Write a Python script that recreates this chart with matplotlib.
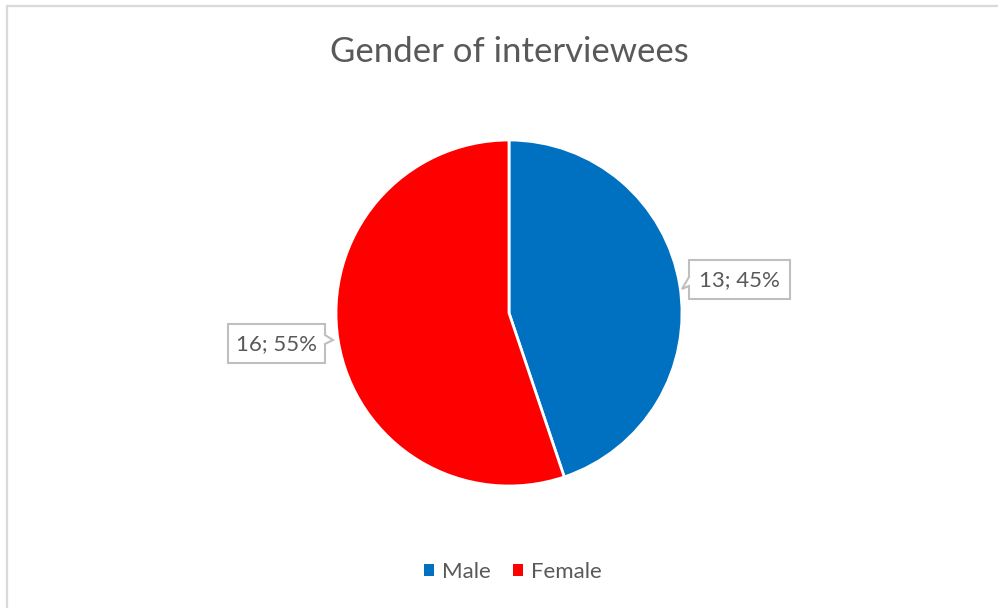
import matplotlib.pyplot as plt
from matplotlib.patches import Polygon

# data
labels = ["Male", "Female"]
counts = [13, 16]
colors = ["#0070C0", "#FF0000"]

title = "Gender of interviewees"
text_grey = "#595959"
font = "Lato"

W, H = 998, 608
fig = plt.figure(figsize=(W / 100, H / 100), dpi=100)
ax = fig.add_axes([0, 0, 1, 1])
ax.set_xlim(0, W)
ax.set_ylim(H, 0)  # pixel-like coords, y downwards
ax.set_aspect("equal")
ax.axis("off")

# pie: y is flipped, so counterclock=True / startangle=-90 reads clockwise from 12 o'clock
cx, cy, r = 509, 313, 173
wedges, _ = ax.pie(counts, colors=colors, startangle=-90, counterclock=True,
                   center=(cx, cy), radius=r, frame=True,
                   wedgeprops=dict(edgecolor="white", linewidth=2))
ax.set_xlim(0, W)
ax.set_ylim(H, 0)
ax.axis("off")

total = sum(counts)
label_text = [f"{c}; {round(100 * c / total)}%" for c in counts]

# callout boxes: (center x, center y, width, height, pointer side)
callouts = [(739.5, 279.5, 101, 39, "left"), (276.5, 343.5, 97, 39, "right")]
for txt, (tx, ty, bw, bh, side) in zip(label_text, callouts):
    x0, x1 = tx - bw / 2, tx + bw / 2
    y0, y1 = ty - bh / 2, ty + bh / 2
    if side == "left":
        pts = [(x0, y0), (x1, y0), (x1, y1), (x0, y1),
               (x0, ty + 6.5), (x0 - 7, ty + 9.5), (x0, ty - 2.5)]
    else:
        pts = [(x0, y0), (x1, y0), (x1, ty - 8.5), (x1 + 8, ty - 3.5),
               (x1, ty + 0.5), (x1, y1), (x0, y1)]
    ax.add_patch(Polygon(pts, closed=True, facecolor="white",
                         edgecolor="#BFBFBF", linewidth=1.5, zorder=5))
    ax.text(tx, ty + 1, txt, ha="center", va="center", fontsize=16,
            color=text_grey, family=font, zorder=6)

ax.text(509, 52, title, ha="center", va="center", fontsize=25,
        color=text_grey, family=font)

leg = ax.legend(wedges, labels, loc="center", ncol=2, frameon=False,
                bbox_to_anchor=(513 / W, 1 - 572 / H),
                bbox_transform=fig.transFigure,
                handlelength=0.45, handleheight=0.45, handletextpad=0.35,
                columnspacing=1.0,
                prop=dict(family=font, size=16))
for t in leg.get_texts():
    t.set_color(text_grey)
for h in leg.legend_handles:
    h.set_edgecolor("none")

# chart border (top and left visible)
ax.plot([7, 7, W], [H, 6, 6], color="#D9D9D9", linewidth=1.6,
        solid_joinstyle="miter", clip_on=False)

fig.savefig("out.png", dpi=100, facecolor="white")
